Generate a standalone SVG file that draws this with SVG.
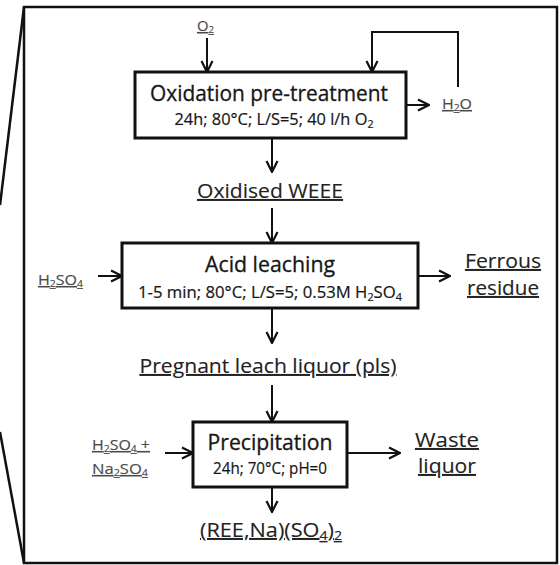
<svg xmlns="http://www.w3.org/2000/svg" width="560" height="565" viewBox="0 0 560 565">
  <style>
    .frame { fill: none; stroke: #111; stroke-width: 2.5; }
    .box { fill: #fff; stroke: #111; stroke-width: 3; }
    .flow { fill: none; stroke: #111; stroke-width: 2; marker-end: url(#head); }
    text { font-family: "Open Sans", "Noto Sans", sans-serif; fill: #161616; stroke: #161616; stroke-width: 0.3; text-anchor: middle; }
    .title { font-size: 21px; }
    .cond { font-size: 16.5px; stroke-width: 0.2; }
    .label { font-size: 19.5px; text-decoration: underline; fill: #222; stroke: #222; stroke-width: 0.12; }
    .small { font-size: 14px; text-decoration: underline; fill: #4a4a4a; stroke: #4a4a4a; stroke-width: 0.15; text-anchor: start; }
    .sub { font-size: 65%; }
  </style>
  <defs>
    <marker id="head" viewBox="0 0 14 14" refX="13" refY="7" markerWidth="14" markerHeight="14" markerUnits="userSpaceOnUse" orient="auto">
      <polyline points="2,1.5 13,7 2,12.5" fill="none" stroke="#111" stroke-width="2.2"/>
    </marker>
  </defs>

  <rect id="bg" x="0" y="0" width="560" height="565" fill="#fff"/>

  <!-- enclosing frame with zoom-out lines -->
  <g id="frame">
    <rect class="frame" x="24" y="7" width="533" height="556"/>
    <line class="frame" x1="24" y1="7" x2="0" y2="205"/>
    <line class="frame" x1="0" y1="432" x2="24" y2="563"/>
  </g>

  <g id="connectors">
    <line class="flow" x1="207" y1="38" x2="207" y2="72"/>
    <polyline class="flow" points="458,87 458,32 372,32 372,72"/>
    <line class="flow" x1="406" y1="105" x2="429" y2="105"/>
    <line class="flow" x1="272" y1="138" x2="272" y2="172"/>
    <line class="flow" x1="272" y1="208" x2="272" y2="243"/>
    <line class="flow" x1="98" y1="276" x2="122" y2="276"/>
    <line class="flow" x1="418" y1="276" x2="450" y2="276"/>
    <line class="flow" x1="272" y1="308" x2="272" y2="343"/>
    <line class="flow" x1="272" y1="385" x2="272" y2="422"/>
    <line class="flow" x1="165" y1="453" x2="193" y2="453"/>
    <line class="flow" x1="347" y1="453" x2="400" y2="453"/>
    <line class="flow" x1="272" y1="487" x2="272" y2="512"/>
  </g>

  <g id="oxidation">
    <rect class="box" x="135" y="72" width="271" height="66"/>
    <text class="title" x="269" y="101" textLength="238" lengthAdjust="spacingAndGlyphs">Oxidation pre-treatment</text>
    <text class="cond" x="274" y="125" textLength="199" lengthAdjust="spacingAndGlyphs">24h; 80°C; L/S=5; 40 l/h O<tspan class="sub" dy="3">2</tspan></text>
  </g>

  <g id="acid-leaching">
    <rect class="box" x="122" y="243" width="296" height="65"/>
    <text class="title" x="270" y="272" textLength="130" lengthAdjust="spacingAndGlyphs">Acid leaching</text>
    <text class="cond" x="270" y="298" textLength="264" lengthAdjust="spacingAndGlyphs">1-5 min; 80°C; L/S=5; 0.53M H<tspan class="sub" dy="3">2</tspan><tspan dy="-3">SO</tspan><tspan class="sub" dy="3">4</tspan></text>
  </g>

  <g id="precipitation">
    <rect class="box" x="193" y="422" width="154" height="65"/>
    <text class="title" x="270" y="450" textLength="125" lengthAdjust="spacingAndGlyphs">Precipitation</text>
    <text class="cond" x="270" y="474" textLength="114" lengthAdjust="spacingAndGlyphs">24h; 70°C; pH=0</text>
  </g>

  <g id="o2-in">
    <text class="small" x="197" y="31" textLength="17" lengthAdjust="spacingAndGlyphs">O<tspan class="sub" dy="2">2</tspan></text>
  </g>
  <g id="h2o-out">
    <text class="small" x="442" y="109" textLength="30" lengthAdjust="spacingAndGlyphs">H<tspan class="sub" dy="2">2</tspan><tspan dy="-2">O</tspan></text>
  </g>
  <g id="oxidised-weee">
    <text class="label" x="270" y="198" textLength="146" lengthAdjust="spacingAndGlyphs">Oxidised WEEE</text>
  </g>
  <g id="h2so4-in">
    <text class="small" x="38" y="285" textLength="45" lengthAdjust="spacingAndGlyphs">H<tspan class="sub" dy="2">2</tspan><tspan dy="-2">SO</tspan><tspan class="sub" dy="2">4</tspan></text>
  </g>
  <g id="ferrous-residue">
    <text class="label" x="503" y="268" textLength="76" lengthAdjust="spacingAndGlyphs">Ferrous</text>
    <text class="label" x="503" y="295" textLength="72" lengthAdjust="spacingAndGlyphs">residue</text>
  </g>
  <g id="pls">
    <text class="label" x="268" y="373" textLength="257" lengthAdjust="spacingAndGlyphs">Pregnant leach liquor (pls)</text>
  </g>
  <g id="reagents-in">
    <text class="small" x="92" y="450" textLength="58" lengthAdjust="spacingAndGlyphs">H<tspan class="sub" dy="2">2</tspan><tspan dy="-2">SO</tspan><tspan class="sub" dy="2">4</tspan><tspan dy="-2"> +</tspan></text>
    <text class="small" x="92" y="474" textLength="56" lengthAdjust="spacingAndGlyphs">Na<tspan class="sub" dy="2">2</tspan><tspan dy="-2">SO</tspan><tspan class="sub" dy="2">4</tspan></text>
  </g>
  <g id="waste-liquor">
    <text class="label" x="447" y="447" textLength="64" lengthAdjust="spacingAndGlyphs">Waste</text>
    <text class="label" x="447" y="473" textLength="58" lengthAdjust="spacingAndGlyphs">liquor</text>
  </g>
  <g id="product">
    <text class="label" x="271" y="537" textLength="142" lengthAdjust="spacingAndGlyphs">(REE,Na)(SO<tspan class="sub" dy="3">4</tspan><tspan dy="-3">)</tspan><tspan class="sub" dy="3">2</tspan></text>
  </g>
</svg>
